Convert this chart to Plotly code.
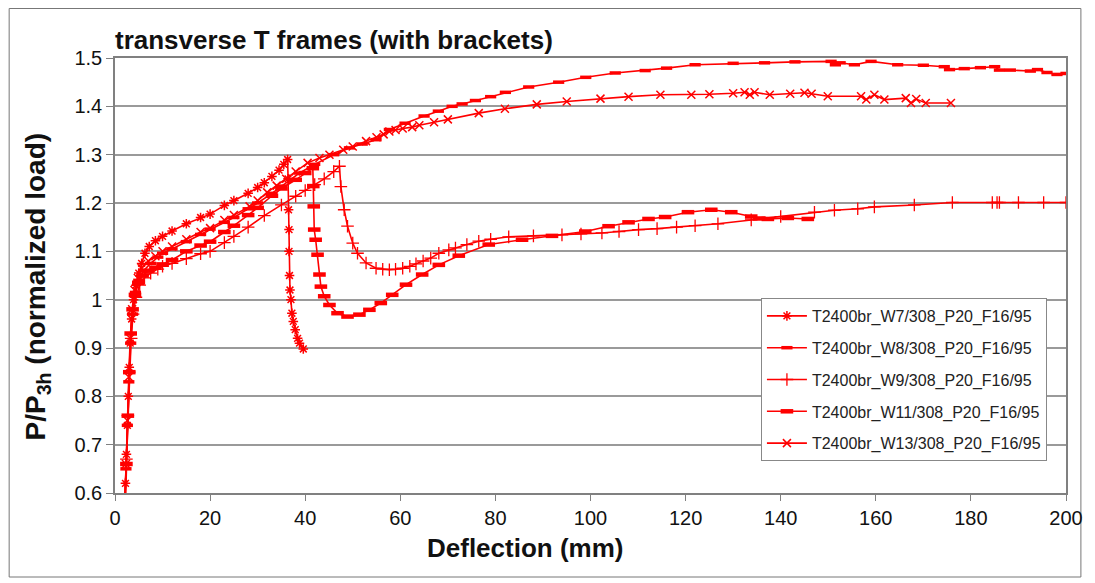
import plotly.graph_objects as go

# ---- data (Deflection mm, P/P3h) ----
w7_x = [2.0, 2.2, 2.4, 2.6, 2.8, 3.0, 3.2, 3.5, 3.9, 4.4, 5.0, 5.6, 6.3, 7.2, 8.5, 10, 12, 15, 18, 20, 23, 25, 28, 30, 31.4, 33, 34.5, 35.5, 36.3,
        36.4, 36.5, 36.6, 36.6, 36.7, 36.8, 37.0, 37.2, 37.5, 37.9, 38.4, 38.8, 39.6]
w7_y = [0.56, 0.62, 0.68, 0.74, 0.80, 0.86, 0.91, 0.96, 1.00, 1.03, 1.055, 1.075, 1.096, 1.11, 1.122, 1.131, 1.142, 1.157, 1.17, 1.177, 1.195, 1.205, 1.22, 1.232, 1.242, 1.255, 1.268, 1.28, 1.29,
        1.25, 1.186, 1.145, 1.10, 1.05, 1.02, 1.00, 0.972, 0.955, 0.938, 0.92, 0.91, 0.898]

w8_x = [2.0, 2.3, 2.6, 2.9, 3.3, 3.7, 4.3, 5.0, 6, 7.5, 9, 10, 12, 15, 18, 20, 23, 25, 28, 30, 33, 35, 38.8, 42, 46, 49.3, 52, 54.9, 57.7, 61, 65, 68, 70.9, 73, 75.8, 79, 82.1, 87, 93.3, 99, 105.2, 111.5, 116, 122, 130, 136.6, 143, 150.6, 151.5, 152.5, 155.5, 159, 164.6, 170, 174.4, 175.5, 178.6, 182, 185, 186, 188.3, 192.5, 194, 196, 198.1, 200]
w8_y = [0.57, 0.65, 0.74, 0.83, 0.91, 0.97, 1.015, 1.04, 1.06, 1.075, 1.088, 1.096, 1.105, 1.12, 1.135, 1.146, 1.16, 1.17, 1.188, 1.20, 1.22, 1.235, 1.262, 1.28, 1.30, 1.314, 1.322, 1.331, 1.352, 1.365, 1.38, 1.39, 1.40, 1.405, 1.412, 1.42, 1.429, 1.44, 1.45, 1.46, 1.469, 1.474, 1.479, 1.486, 1.489, 1.49, 1.492, 1.493, 1.486, 1.49, 1.486, 1.493, 1.486, 1.485, 1.482, 1.476, 1.478, 1.48, 1.482, 1.475, 1.475, 1.473, 1.476, 1.47, 1.466, 1.468]

w9_x = [2.1, 2.4, 2.7, 3.0, 3.4, 3.8, 4.4, 5.2, 6.2, 7.5, 9, 10, 12, 15, 18, 20, 23, 25, 28, 31.4, 35, 38, 40, 42, 44, 46, 47.2,
        47.5, 48.2, 48.9, 50, 51, 52.8, 54.9, 56.3, 57.7, 59, 60.5, 62, 63.3, 64.8, 66.4, 68.1, 70.2, 71.6, 74, 76.5, 79, 82.8, 88, 94, 98, 102.4, 106, 110.1, 114, 118.1, 122, 126.8, 133.8, 140, 147.1, 151.3, 156.2, 159.7, 168.1, 176.1, 184.5, 185.5, 186, 190, 195.3, 200]
w9_y = [0.59, 0.67, 0.76, 0.85, 0.92, 0.97, 1.005, 1.03, 1.045, 1.055, 1.063, 1.069, 1.075, 1.085, 1.095, 1.10, 1.118, 1.131, 1.15, 1.174, 1.196, 1.214, 1.226, 1.238, 1.25, 1.265, 1.276,
        1.234, 1.186, 1.152, 1.117, 1.096, 1.076, 1.065, 1.063, 1.062, 1.063, 1.065, 1.069, 1.074, 1.08, 1.086, 1.096, 1.103, 1.107, 1.114, 1.121, 1.125, 1.13, 1.132, 1.134, 1.136, 1.138, 1.141, 1.145, 1.147, 1.150, 1.153, 1.157, 1.165, 1.172, 1.181, 1.185, 1.188, 1.192, 1.196, 1.201, 1.201, 1.201, 1.201, 1.201, 1.201, 1.201]

w11_x = [2.2, 2.4, 2.7, 3.0, 3.3, 3.7, 4.2, 4.9, 5.8, 7, 8.5, 10, 12, 15, 18, 20, 23, 25, 28, 30, 33, 35, 38, 40, 41.6,
         41.7, 41.8, 41.9, 42.2, 42.6, 43, 43.3, 44, 45.1, 46.8, 48.9, 51.4, 53.5, 55.9, 58.3, 61.2, 64.6, 68.1, 72.3, 78.6, 85.6, 91.9, 98.9, 103.8, 108, 112.2, 115.7, 120.5, 125.4, 129.6, 133.8, 135.5, 137.3, 141.5, 145.7]
w11_y = [0.58, 0.66, 0.76, 0.85, 0.93, 0.98, 1.01, 1.035, 1.05, 1.06, 1.066, 1.073, 1.082, 1.10, 1.112, 1.12, 1.14, 1.153, 1.175, 1.19, 1.215, 1.23, 1.248, 1.262, 1.272,
         1.235, 1.193, 1.145, 1.124, 1.093, 1.052, 1.027, 1.007, 0.989, 0.972, 0.965, 0.969, 0.979, 0.993, 1.010, 1.031, 1.052, 1.072, 1.091, 1.114, 1.124, 1.132, 1.141, 1.152, 1.160, 1.167, 1.171, 1.181, 1.186, 1.181, 1.172, 1.168, 1.167, 1.169, 1.167]

w13_x = [2.1, 2.3, 2.6, 2.9, 3.2, 3.6, 4.1, 4.8, 5.6, 7, 8.5, 10, 12, 15, 18, 20, 23, 25, 28.3, 30, 32, 34, 36, 38, 40.5, 43, 45.1, 48, 50, 52.8, 55, 56.5, 57.7, 59, 60.5, 62.5, 64, 67.1, 70, 76.5, 82, 88.7, 95, 102.1, 108, 114.7, 121.2, 125, 130, 132.4, 133.5, 134.5, 137.7, 142, 145, 146.5, 149.9, 156.9, 158, 159.7, 161.8, 166.3, 167.4, 168.5, 170.5, 175.8]
w13_y = [0.58, 0.66, 0.75, 0.84, 0.92, 0.98, 1.02, 1.045, 1.065, 1.08, 1.09, 1.10, 1.11, 1.125, 1.14, 1.148, 1.165, 1.175, 1.193, 1.205, 1.222, 1.236, 1.25, 1.265, 1.283, 1.293, 1.30, 1.31, 1.317, 1.328, 1.336, 1.342, 1.348, 1.351, 1.354, 1.357, 1.361, 1.367, 1.373, 1.386, 1.395, 1.404, 1.41, 1.416, 1.42, 1.424, 1.424, 1.425, 1.427, 1.429, 1.424, 1.429, 1.424, 1.426, 1.428, 1.426, 1.421, 1.421, 1.414, 1.424, 1.414, 1.417, 1.407, 1.415, 1.407, 1.407]

series_names = ["T2400br_W7/308_P20_F16/95", "T2400br_W8/308_P20_F16/95", "T2400br_W9/308_P20_F16/95",
                "T2400br_W11/308_P20_F16/95", "T2400br_W13/308_P20_F16/95"]

x_ticks = [0, 20, 40, 60, 80, 100, 120, 140, 160, 180, 200]
y_ticks = [0.6, 0.7, 0.8, 0.9, 1.0, 1.1, 1.2, 1.3, 1.4, 1.5]
y_ticktext = ["0.6", "0.7", "0.8", "0.9", "1", "1.1", "1.2", "1.3", "1.4", "1.5"]

RED = "#ff0000"
series = [
    (w7_x, w7_y, "asterisk-open", 8, 1.5),
    (w8_x, w8_y, "line-ew-open", 8, 3.5),
    (w9_x, w9_y, "cross-thin-open", 9, 1.3),
    (w11_x, w11_y, "line-ew-open", 9, 4.5),
    (w13_x, w13_y, "x-thin-open", 8, 1.5),
]

fig = go.Figure()
for i, ((xs, ys, sym, sz, mw), name) in enumerate(zip(series, series_names)):
    fig.add_trace(go.Scatter(
        x=xs, y=ys, mode="lines+markers", name=name, legendgroup=f"g{i}",
        line=dict(color=RED, width=1.6),
        marker=dict(symbol=sym, size=sz, color=RED, line=dict(color=RED, width=mw)),
    ))

FONT = "Liberation Sans, Arial, sans-serif"
NARROW = "Liberation Sans Narrow, Arial Narrow, Liberation Sans, Arial, sans-serif"

# page body has an 8px margin: figure drawn 8px in from the window edge
W, H = 1087, 575
L, R, T, B = 107, 23, 50, 90
PW, PH = W - L - R, H - T - B

fig.update_layout(
    width=W, height=H,
    margin=dict(l=L, r=R, t=T, b=B),
    paper_bgcolor="white", plot_bgcolor="white",
    font=dict(family=FONT, color="#111"),
    title=dict(text="<b>transverse T frames (with brackets)</b>", x=L/W, xanchor="left",
               y=1-32/H, yanchor="middle", font=dict(size=26, color="#111")),
    showlegend=True,
    legend=dict(x=(757 - L) / PW, y=(H - B - 290) / PH, xanchor="left", yanchor="top",
                bgcolor="white", bordercolor="#888", borderwidth=1,
                font=dict(size=16, color="#222"), tracegroupgap=8,
                itemwidth=40),
    xaxis=dict(range=[0, 200], tickvals=x_ticks, showgrid=False, zeroline=False,
               showline=True, linecolor="#808080", linewidth=1.5, mirror=True,
               ticks="outside", ticklen=6, tickcolor="#808080",
               tickfont=dict(size=20, color="#111", family=NARROW)),
    yaxis=dict(range=[0.6, 1.5], tickvals=y_ticks, ticktext=y_ticktext,
               showgrid=True, gridcolor="#9a9a9a", gridwidth=1.5, zeroline=False,
               showline=True, linecolor="#808080", linewidth=1.5, mirror=True,
               ticks="outside", ticklen=7, tickcolor="#808080",
               tickfont=dict(size=20, color="#111", family=NARROW)),
)

fig.add_annotation(text="<b>Deflection (mm)</b>", xref="paper", yref="paper",
                   x=(520 - L) / PW, y=(H - B - 540) / PH, xanchor="center", yanchor="middle",
                   showarrow=False, font=dict(size=26, color="#111"))
fig.add_annotation(text="<b>P/P<sub>3h</sub> (normalized load)</b>", xref="paper", yref="paper",
                   x=(29 - L) / PW, y=(H - B - 278) / PH, xanchor="center", yanchor="middle",
                   textangle=-90, showarrow=False, font=dict(size=28, color="#111"))

# outer chart frame
fig.add_shape(type="rect", xref="paper", yref="paper",
              x0=(0.5 - L) / PW, x1=(1079 - L) / PW, y0=(H - B - 569) / PH, y1=(H - B - 0.5) / PH,
              line=dict(color="#777", width=1), fillcolor="rgba(0,0,0,0)", layer="below")

fig.write_html("out.html")
